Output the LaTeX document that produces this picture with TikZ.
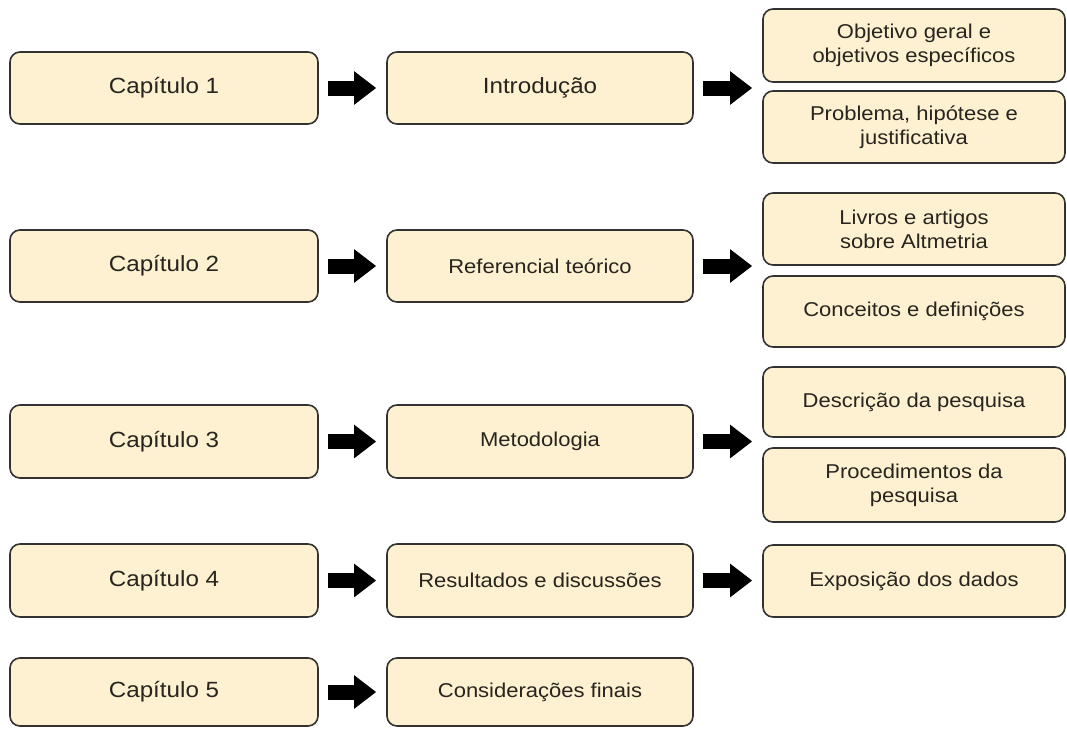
\documentclass[tikz,border=0pt]{standalone}
\usepackage{fontspec}
\setmainfont[FakeStretch=1.1]{Liberation Sans}
\usetikzlibrary{arrows.meta}
\definecolor{boxfill}{RGB}{253,241,209}
\definecolor{boxline}{RGB}{50,50,50}
\definecolor{txt}{RGB}{40,36,30}
\begin{document}
\begin{tikzpicture}[x=1pt,y=-1pt,
  box/.style={draw=boxline, fill=boxfill, line width=1.6pt, rounded corners=10pt,
              inner sep=0pt, align=center, text=txt, anchor=center},
  bigtxt/.style={font=\fontsize{22}{26}\selectfont},
  smalltxt/.style={font=\fontsize{20}{24}\selectfont},
  leftbox/.style={box, bigtxt, minimum width=308pt, minimum height=72pt},
  midbox/.style={box, smalltxt, minimum width=306pt, minimum height=72pt},
  rightbox/.style={box, smalltxt, minimum width=302pt, minimum height=72pt},
  blk/.style={line width=15pt, draw=black, -{Triangle[length=22pt,width=32pt]},
              shorten <=9pt, shorten >=10pt}]
\useasboundingbox (0,0) rectangle (1067,728);

% left column
\node[leftbox] (c1) at (164,88)    {Capítulo 1};
\node[leftbox] (c2) at (164,266)   {Capítulo 2};
\node[leftbox, minimum height=73pt] (c3) at (164,441.5) {Capítulo 3};
\node[leftbox, minimum height=73pt] (c4) at (164,580.5) {Capítulo 4};
\node[leftbox, minimum height=68pt] (c5) at (164,692)   {Capítulo 5};

% middle column
\node[midbox, bigtxt] (m1) at (540,88)    {Introdução};
\node[midbox] (m2) at (540,266)   {Referencial teórico};
\node[midbox, minimum height=73pt] (m3) at (540,441.5) {Metodologia};
\node[midbox, minimum height=73pt] (m4) at (540,580.5) {Resultados e discussões};
\node[midbox, minimum height=68pt] (m5) at (540,692)   {Considerações finais};

% right column
\node[rightbox, minimum height=73pt] (r1a) at (914,45.5) {Objetivo geral e\\objetivos específicos};
\node[rightbox] (r1b) at (914,127)   {Problema, hipótese e\\justificativa};
\node[rightbox] (r2a) at (914,229)   {Livros e artigos\\sobre Altmetria};
\node[rightbox, minimum height=71pt] (r2b) at (914,311.5) {Conceitos e definições};
\node[rightbox, minimum height=70pt] (r3a) at (914,402)   {Descrição da pesquisa};
\node[rightbox, minimum height=74pt] (r3b) at (914,485)   {Procedimentos da\\pesquisa};
\node[rightbox] (r4)  at (914,581)   {Exposição dos dados};

% arrows left -> middle
\draw[blk] (c1.east) -- (m1.west);
\draw[blk] (c2.east) -- (m2.west);
\draw[blk] (c3.east) -- (m3.west);
\draw[blk] (c4.east) -- (m4.west);
\draw[blk] (c5.east) -- (m5.west);

% arrows middle -> right
\draw[blk] (m1.east) -- (m1.east -| r1a.west);
\draw[blk] (m2.east) -- (m2.east -| r2a.west);
\draw[blk] (m3.east) -- (m3.east -| r3a.west);
\draw[blk] (m4.east) -- (m4.east -| r4.west);
\end{tikzpicture}
\end{document}
